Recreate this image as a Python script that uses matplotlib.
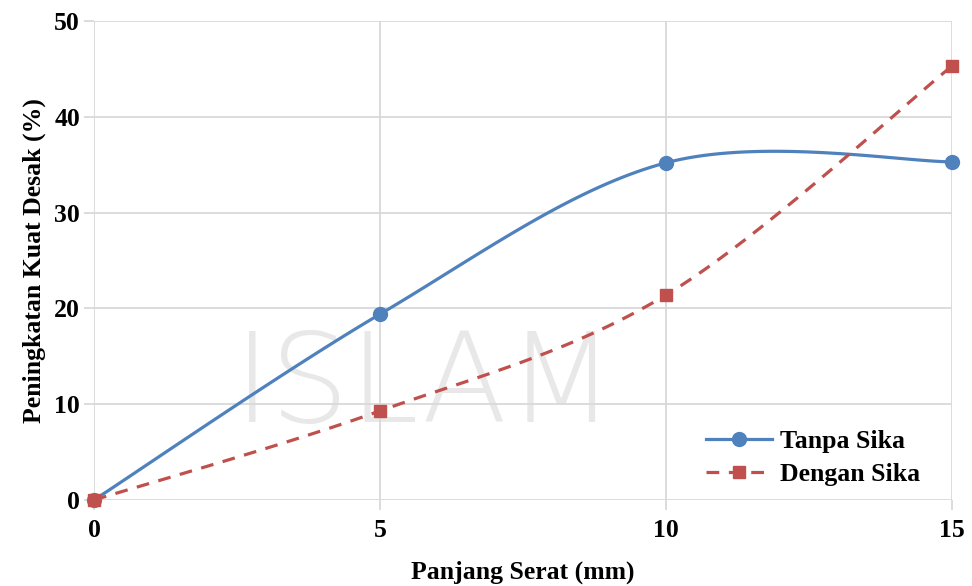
import numpy as np
import matplotlib.pyplot as plt

panjang = [0, 5, 10, 15]
tanpa_sika = [0, 19.4, 35.2, 35.3]
dengan_sika = [0, 9.3, 21.4, 45.3]
x_ticks = [0, 5, 10, 15]
y_ticks = [0, 10, 20, 30, 40, 50]


def smooth(xs, ys, n=40):
    # Excel-style smoothed line (Catmull-Rom through the points)
    xs = np.asarray(xs, float); ys = np.asarray(ys, float)
    px = np.concatenate([[xs[0]], xs, [xs[-1]]])
    py = np.concatenate([[ys[0]], ys, [ys[-1]]])
    ox, oy = [], []
    t = np.linspace(0, 1, n)
    for i in range(1, len(px) - 2):
        p0, p1, p2, p3 = (np.array([px[j], py[j]]) for j in (i - 1, i, i + 1, i + 2))
        c1 = p1 + (p2 - p0) / 6
        c2 = p2 - (p3 - p1) / 6
        b = ((1 - t) ** 3)[:, None] * p1 + (3 * (1 - t) ** 2 * t)[:, None] * c1 \
            + (3 * (1 - t) * t ** 2)[:, None] * c2 + (t ** 3)[:, None] * p2
        ox.extend(b[:, 0]); oy.extend(b[:, 1])
    return ox, oy


plt.rcParams['font.family'] = ['Liberation Serif', 'DejaVu Serif']
plt.rcParams['font.weight'] = 'bold'

fig = plt.figure(figsize=(9.72, 5.86), dpi=100)
ax = fig.add_axes([94 / 972, 1 - 500 / 586, (952 - 94) / 972, (500 - 21) / 586])

blue = '#4F81BD'
red = '#C0504D'

sx, sy = smooth(panjang, tanpa_sika)
ax.plot(sx, sy, color=blue, lw=2.3, zorder=3)
ax.plot(panjang, tanpa_sika, 'o', color=blue, ms=10, zorder=4)
sx, sy = smooth(panjang, dengan_sika)
ax.plot(sx, sy, color=red, lw=2.3, ls=(0, (4, 3)), zorder=3)
ax.plot(panjang, dengan_sika, 's', color=red, ms=9, zorder=4)

# legend handles
ax.plot([], [], color=blue, lw=2.3, marker='o', ms=10, label='Tanpa Sika')
ax.plot([], [], color=red, lw=2.3, ls=(0, (4, 3)), marker='s', ms=9, label='Dengan Sika')
h, l = ax.get_legend_handles_labels()
ax.legend(h, l, loc='lower right', bbox_to_anchor=(0.99, -0.02), frameon=False,
          prop={'weight': 'bold', 'size': 18.5}, handlelength=2.6, labelspacing=0.4,
          handletextpad=0.3)

# faint watermark
ax.text(0.386, 0.234, 'ISLAM', transform=ax.transAxes, fontsize=90, color='#e8e8e8',
        family='DejaVu Sans', weight='light', ha='center', va='center', zorder=0)

ax.set_xlim(0, 15)
ax.set_ylim(0, 50)
ax.set_xticks(x_ticks)
ax.set_yticks(y_ticks)
ax.grid(True, color='#d9d9d9', lw=1.3, zorder=1)
ax.set_axisbelow(True)
for s in ax.spines.values():
    s.set_visible(False)
ax.tick_params(axis='both', colors='#d9d9d9', width=1.3, length=7, labelcolor='black',
               labelsize=18.5)
ax.tick_params(axis='y', pad=3)
ax.tick_params(axis='x', pad=7)
for lab in ax.get_xticklabels() + ax.get_yticklabels():
    lab.set_fontweight('bold')
ax.set_xlabel('Panjang Serat (mm)', fontsize=18.5, fontweight='bold', labelpad=13)
ax.set_ylabel('Peningkatan Kuat Desak (%)', fontsize=18.5, fontweight='bold', labelpad=6)
for ln in ax.lines:
    ln.set_clip_on(False)

fig.savefig('out.png', dpi=100)
